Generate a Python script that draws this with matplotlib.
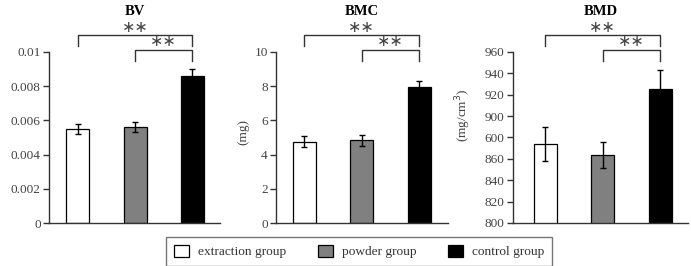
import matplotlib
matplotlib.use("Agg")
import matplotlib.pyplot as plt
from matplotlib.patches import Patch
import matplotlib.transforms as mtransforms

plt.rcParams['font.family'] = ['Liberation Serif', 'DejaVu Serif']

groups = ["extraction group", "powder group", "control group"]
colors = ["white", "#808080", "black"]

titles = ["BV", "BMC", "BMD"]
ylabels = ["(mm$^3$)", "(mg)", "(mg/cm$^3$)"]

bv_mean = [0.0055, 0.0056, 0.0086]
bv_err = [0.0003, 0.0003, 0.0004]
bmc_mean = [4.75, 4.83, 7.93]
bmc_err = [0.32, 0.32, 0.38]
bmd_mean = [874, 863.5, 925]
bmd_err = [16, 12, 18]

bv_ticks = [0, 0.002, 0.004, 0.006, 0.008, 0.01]
bv_ticklabels = ["0", "0.002", "0.004", "0.006", "0.008", "0.01"]
bmc_ticks = [0, 2, 4, 6, 8, 10]
bmc_ticklabels = ["0", "2", "4", "6", "8", "10"]
bmd_ticks = [800, 820, 840, 860, 880, 900, 920, 940, 960]
# the original figure prints "600" in place of 880
bmd_ticklabels = ["800", "820", "840", "860", "600", "900", "920", "940", "960"]

panels = [
    (bv_mean, bv_err, bv_ticks, bv_ticklabels, (0, 0.01)),
    (bmc_mean, bmc_err, bmc_ticks, bmc_ticklabels, (0, 10)),
    (bmd_mean, bmd_err, bmd_ticks, bmd_ticklabels, (800, 960)),
]

fig = plt.figure(figsize=(6.91, 2.66), dpi=100)
W, H = 691, 266
# axes boxes in pixels: left, right
boxes = [(49, 220), (276, 448), (513, 688)]
xlims = [(-0.5, 2.48), (-0.49, 2.5), (-0.557, 2.478)]
label_x = [-0.265, -0.157, -0.229]
label_y = [0.52, 0.53, 0.63]
top_px, bot_px = 52, 223
gray = "#333333"

for i, (mean, err, ticks, tlabels, ylim) in enumerate(panels):
    l, r = boxes[i]
    ax = fig.add_axes([l / W, 1 - bot_px / H, (r - l) / W, (bot_px - top_px) / H])
    x = [0, 1, 2]
    ax.bar(x, mean, width=0.4, color=colors, edgecolor="black", linewidth=0.9, zorder=2)
    ax.errorbar(x, mean, yerr=err, fmt="none", ecolor="black", elinewidth=1,
                capsize=2.5, capthick=1, zorder=3)
    ax.set_ylim(*ylim)
    ax.set_xlim(*xlims[i])
    ax.set_yticks(ticks)
    ax.set_yticklabels(tlabels)
    ax.set_xticks([])
    for s in ["top", "right"]:
        ax.spines[s].set_visible(False)
    for s in ["left", "bottom"]:
        ax.spines[s].set_color(gray)
        ax.spines[s].set_linewidth(1.0)
    ax.tick_params(axis="y", length=4, width=1, color=gray, labelcolor="#444444",
                   labelsize=9.5, pad=2)
    ax.set_ylabel(ylabels[i], fontsize=9.5, color="#444444")
    ax.yaxis.set_label_coords(label_x[i], label_y[i])

    ax.text(0.5, 1.235, titles[i], transform=ax.transAxes, ha="center", va="center",
            fontsize=10.5, fontweight="bold")

    tr = mtransforms.blended_transform_factory(ax.transData, ax.transAxes)
    # significance brackets
    ax.plot([0, 0, 2, 2], [1.035, 1.097, 1.097, 1.035], color=gray, lw=1,
            transform=tr, clip_on=False)
    ax.plot([1, 1, 2, 2], [0.947, 1.012, 1.012, 0.947], color=gray, lw=1,
            transform=tr, clip_on=False)
    ax.text(1.0, 1.10, "\u2217\u2217", transform=tr, ha="center", va="bottom",
            fontsize=11.5, family="DejaVu Sans", color="#444444")
    ax.text(1.5, 1.015, "\u2217\u2217", transform=tr, ha="center", va="bottom",
            fontsize=11.5, family="DejaVu Sans", color="#444444")

handles = [Patch(facecolor=c, edgecolor="black", linewidth=0.9) for c in colors]
leg = fig.legend(handles, groups, loc="center", bbox_to_anchor=(359 / W, 1 - 251.5 / H),
                 ncol=3, fontsize=9.6, frameon=True, fancybox=False, edgecolor="#555555",
                 handlelength=1.15, handleheight=1.1, handletextpad=0.65,
                 columnspacing=2.35, borderpad=0.6, borderaxespad=0)
leg.get_frame().set_linewidth(1.0)
for t in leg.get_texts():
    t.set_color("#333333")

fig.savefig("out.png", dpi=100, facecolor="white")
